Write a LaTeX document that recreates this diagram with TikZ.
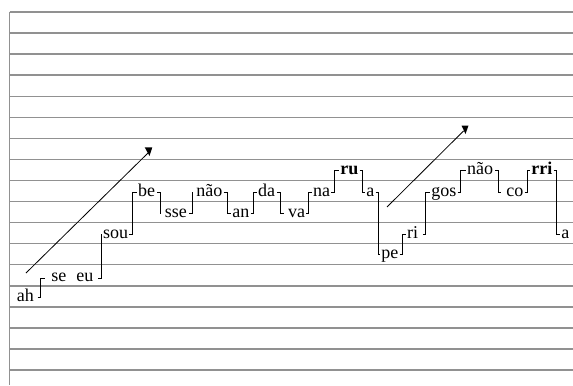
\documentclass[tikz,border=0pt]{standalone}
\usepackage{fontspec}
\setmainfont{Liberation Serif}
\usetikzlibrary{calc}
\definecolor{staffgray}{RGB}{145,145,145}
\begin{document}
\begin{tikzpicture}[x=0.75pt,y=-0.75pt,
  staff/.style={draw=staffgray, line width=1.1pt},
  syl/.style={anchor=base west, inner xsep=0.75pt, inner ysep=0pt, font=\fontsize{13.5}{15}\selectfont},
  accent/.style={syl, font=\fontsize{13.5}{15}\selectfont\bfseries},
  conn/.style={draw=black, line width=0.75pt},
  trend/.style={draw=black, line width=0.6pt},
  tiphead/.style={fill=black}]
\useasboundingbox (0,0) rectangle (573,385);
% staff lines
\foreach \k in {0,...,17} \draw[staff] (9.5,{12+21.06*\k}) -- (573,{12+21.06*\k});
\draw[staff] (9.5,12) -- (9.5,385);
% syllables
\node[syl] (ah)   at (15.5,301)  {ah};
\node[syl] (se)   at (50.2,281.5) {se};
\node[syl] (eu)   at (75.2,281.5) {eu};
\node[syl] (sou)  at (101.8,238) {sou};
\node[syl] (be)   at (136.8,196) {be};
\node[syl] (sse)  at (163.5,217) {sse};
\node[syl] (naoA) at (195.2,196) {não};
\node[syl] (an)   at (231.2,217) {an};
\node[syl] (da)   at (256.8,196) {da};
\node[syl] (va)   at (286.8,217) {va};
\node[syl] (na)   at (311.8,196) {na};
\node[accent] (ru) at (339.2,174) {ru};
\node[syl] (aA)   at (365.2,196) {a};
\node[syl] (pe)   at (380.2,258) {pe};
\node[syl] (ri)   at (405.8,238) {ri};
\node[syl] (gos)  at (430.2,196) {gos};
\node[syl] (naoB) at (465.8,174) {não};
\node[syl] (co)   at (505.2,196) {co};
\node[accent] (rri) at (530.2,174) {rri};
\node[syl] (aB)   at (560.2,238) {a};
% step connectors
\draw[conn] ($(ah.mid east)+(2.5,0)$) -- ++(3,0) |- ($(se.mid west)+(-5.2,0)$);
\draw[conn] ($(eu.mid east)+(3.5,0)$) -- ++(3,0) |- (sou.mid west);
\draw[conn] (sou.mid east) -- ++(3,0) |- (be.mid west);
\draw[conn] ($(be.mid east)+(1,0)$) -- ++(3,0) |- ($(sse.mid west)+(-4,0)$);
\draw[conn] ($(sse.mid east)+(1,0)$) -- ++(3,0) |- ($(naoA.mid west)+(-2.7,0)$);
\draw[conn] (naoA.mid east) -- ++(3.5,0) |- (an.mid west);
\draw[conn] (an.mid east) -- ++(3,0) |- (da.mid west);
\draw[conn] ($(da.mid east)+(1,0)$) -- ++(3,0) |- ($(va.mid west)+(-2.6,0)$);
\draw[conn] (va.mid east) -- ++(2.5,0) |- (na.mid west);
\draw[conn] (na.mid east) -- ++(3,0) |- (ru.mid west);
\draw[conn] (ru.mid east) -- ++(3,0) |- (aA.mid west);
\draw[conn] (aA.mid east) -- ++(3,0) |- (pe.mid west);
\draw[conn] (pe.mid east) -- ++(2.5,0) |- (ri.mid west);
\draw[conn] ($(ri.mid east)+(3.5,0)$) -- ++(3,0) |- (gos.mid west);
\draw[conn] (gos.mid east) -- ++(2.5,0) |- (naoB.mid west);
\draw[conn] ($(naoB.mid east)+(1,0)$) -- ++(3,0) |- ($(co.mid west)+(-4.4,0)$);
\draw[conn] (co.mid east) -- ++(3,0) |- (rri.mid west);
\draw[conn] (rri.mid east) -- ++(3,0) |- (aB.mid west);
% rising trend arrows
\coordinate (r1a) at (26,273);
\coordinate (r1b) at (148,153);
\draw[trend] (r1a) -- (r1b);
\fill[tiphead] (144.7,147.3) -- (152.3,147.3) -- (149.5,156) -- cycle;
\coordinate (r2a) at (387,207);
\coordinate (r2b) at (463.5,131);
\draw[trend] (r2a) -- (r2b);
\fill[tiphead] (461.5,125.5) -- (468.5,125.5) -- (465.5,134) -- cycle;
\end{tikzpicture}
\end{document}
